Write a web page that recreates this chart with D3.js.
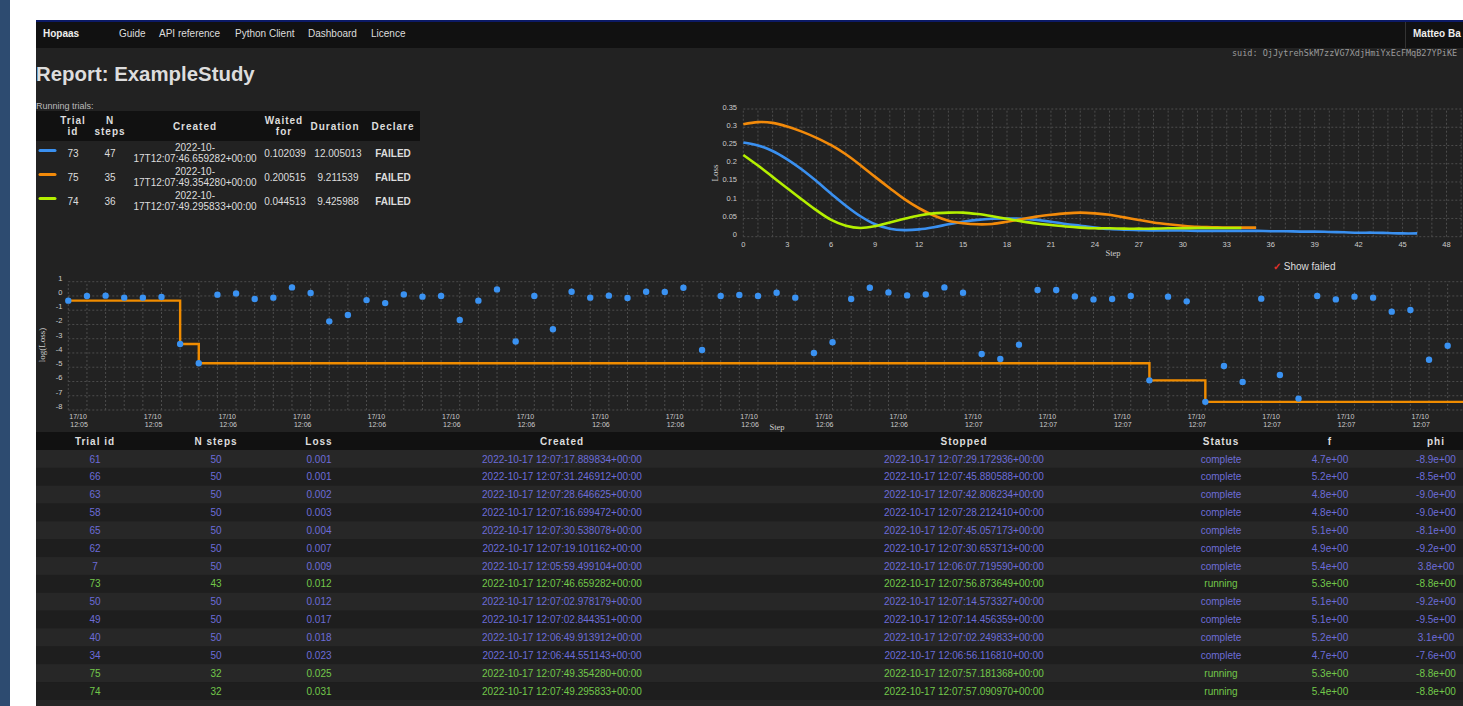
<!DOCTYPE html>
<html>
<head>
<meta charset="utf-8">
<script src="https://cdn.jsdelivr.net/npm/d3@7"></script>
<style>
  html, body { margin: 0; padding: 0; overflow: hidden; background: #fff; }
  svg { display: block; font-family: "Liberation Sans", Arial, sans-serif; }
</style>
</head>
<body>
<script>
// ---- data ----
const navLinks = ["Guide", "API reference", "Python Client", "Dashboard", "Licence"];
const navX = [119, 159, 235, 308, 371];

// running trials
const runIds = [73, 75, 74];
const runSteps = [47, 35, 36];
const runCreated = ["2022-10-17T12:07:46.659282+00:00", "2022-10-17T12:07:49.354280+00:00", "2022-10-17T12:07:49.295833+00:00"];
const runWaited = ["0.102039", "0.200515", "0.044513"];
const runDuration = ["12.005013", "9.211539", "9.425988"];
const runColors = ["#3a90f0", "#f28a0a", "#b4ef00"];

// loss vs step of the running trials (73, 75, 74)
const loss73 = [0.258, 0.250, 0.235, 0.212, 0.184, 0.152, 0.118, 0.085, 0.056, 0.034, 0.022, 0.018, 0.020, 0.026,
  0.034, 0.041, 0.046, 0.049, 0.050, 0.049, 0.046, 0.041, 0.035, 0.030, 0.025, 0.021, 0.019, 0.018, 0.017, 0.017,
  0.017, 0.016, 0.016, 0.016, 0.016, 0.016, 0.015, 0.015, 0.014, 0.014, 0.013, 0.012, 0.011, 0.011, 0.010, 0.009, 0.009];
const loss75 = [0.308, 0.314, 0.312, 0.302, 0.288, 0.271, 0.251, 0.226, 0.196, 0.164, 0.133, 0.103, 0.078, 0.058,
  0.044, 0.037, 0.034, 0.035, 0.041, 0.048, 0.055, 0.060, 0.064, 0.066, 0.064, 0.060, 0.053, 0.046, 0.039, 0.034,
  0.030, 0.027, 0.026, 0.025, 0.025, 0.025];
const loss74 = [0.224, 0.195, 0.164, 0.133, 0.102, 0.072, 0.046, 0.030, 0.024, 0.029, 0.039, 0.049, 0.058, 0.064,
  0.066, 0.066, 0.062, 0.056, 0.049, 0.042, 0.036, 0.032, 0.028, 0.025, 0.023, 0.023, 0.022, 0.022, 0.022, 0.023,
  0.023, 0.024, 0.024, 0.024, 0.024];

// log(loss) of all trials, in creation order
const logLoss = [-0.33, 0.0, 0.02, -0.12, -0.12, -0.07, -3.37, -4.72, 0.09, 0.18, -0.21, -0.12, 0.6, 0.21, -1.78,
  -1.34, -0.29, -0.5, 0.11, -0.05, 0.0, -1.69, -0.33, 0.46, -3.2, 0.0, -2.34, 0.3, -0.12, 0.02, -0.14, 0.3, 0.28,
  0.58, -3.79, 0.0, 0.07, 0.0, 0.23, -0.12, -4.0, -3.25, -0.21, 0.58, 0.25, 0.04, 0.11, 0.6, 0.23, -4.07, -4.42,
  -3.42, 0.42, 0.42, -0.03, -0.24, -0.21, 0.0, -5.92, -0.05, -0.38, -7.43, -4.91, -6.03, -0.19, -5.54, -7.2, 0.0,
  -0.24, -0.05, -0.12, -1.1, -0.99, -4.47, -3.49, -3.67];
const timeTicks = ["12:05", "12:05", "12:06", "12:06", "12:06", "12:06", "12:06", "12:06", "12:06", "12:06",
  "12:06", "12:06", "12:07", "12:07", "12:07", "12:07", "12:07", "12:07", "12:07"];

// trials table
const tblHeaders = ["Trial id", "N steps", "Loss", "Created", "Stopped", "Status", "f", "phi"];
const trialIds = [61, 66, 63, 58, 65, 62, 7, 73, 50, 49, 40, 34, 75, 74];
const nSteps = [50, 50, 50, 50, 50, 50, 50, 43, 50, 50, 50, 50, 32, 32];
const losses = ["0.001", "0.001", "0.002", "0.003", "0.004", "0.007", "0.009", "0.012", "0.012", "0.017", "0.018", "0.023", "0.025", "0.031"];
const created = ["12:07:17.889834", "12:07:31.246912", "12:07:28.646625", "12:07:16.699472", "12:07:30.538078",
  "12:07:19.101162", "12:05:59.499104", "12:07:46.659282", "12:07:02.978179", "12:07:02.844351", "12:06:49.913912",
  "12:06:44.551143", "12:07:49.354280", "12:07:49.295833"];
const stopped = ["12:07:29.172936", "12:07:45.880588", "12:07:42.808234", "12:07:28.212410", "12:07:45.057173",
  "12:07:30.653713", "12:06:07.719590", "12:07:56.873649", "12:07:14.573327", "12:07:14.456359", "12:07:02.249833",
  "12:06:56.116810", "12:07:57.181368", "12:07:57.090970"];
const status = ["complete", "complete", "complete", "complete", "complete", "complete", "complete", "running",
  "complete", "complete", "complete", "complete", "running", "running"];
const fVals = ["4.7e+00", "5.2e+00", "4.8e+00", "4.8e+00", "5.1e+00", "4.9e+00", "5.4e+00", "5.3e+00", "5.1e+00", "5.1e+00", "5.2e+00", "4.7e+00", "5.3e+00", "5.4e+00"];
const phiVals = ["-8.9e+00", "-8.5e+00", "-9.0e+00", "-9.0e+00", "-8.1e+00", "-9.2e+00", "3.8e+00", "-8.8e+00", "-9.2e+00", "-9.5e+00", "3.1e+00", "-7.6e+00", "-8.8e+00", "-8.8e+00"];

// ---- page frame ----
const W = 1463, H = 706;
const svg = d3.select("body").append("svg").attr("width", W).attr("height", H);
svg.append("rect").attr("width", W).attr("height", H).attr("fill", "#fff");
svg.append("rect").attr("width", 10).attr("height", H).attr("fill", "#2d4b70");
svg.append("rect").attr("x", 36).attr("y", 20).attr("width", W - 36).attr("height", H - 20).attr("fill", "#222");
svg.append("rect").attr("x", 36).attr("y", 20).attr("width", W - 36).attr("height", 2).attr("fill", "#0c1a66");
svg.append("rect").attr("x", 36).attr("y", 22).attr("width", W - 36).attr("height", 26).attr("fill", "#111");

// nav
svg.append("text").attr("x", 43).attr("y", 36.5).attr("fill", "#eee").attr("font-size", 10)
  .attr("font-weight", "bold").text("Hopaas");
svg.selectAll("text.nav").data(navLinks).join("text").attr("class", "nav")
  .attr("x", (d, i) => navX[i]).attr("y", 36.5).attr("fill", "#ddd").attr("font-size", 10).text(d => d);
svg.append("line").attr("x1", 1405.5).attr("x2", 1405.5).attr("y1", 22).attr("y2", 48).attr("stroke", "#333");
svg.append("text").attr("x", 1413).attr("y", 36.5).attr("fill", "#eee").attr("font-size", 10)
  .attr("font-weight", "bold").text("Matteo Ba");
svg.append("text").attr("x", 1232).attr("y", 56).attr("fill", "#9a9a9a").attr("font-size", 8.5)
  .attr("font-family", "'DejaVu Sans Mono', monospace").text("suid: OjJytrehSkM7zzVG7XdjHmiYxEcFMqB27YPiKE");

svg.append("text").attr("x", 36).attr("y", 81).attr("fill", "#ddd").attr("font-size", 20.4)
  .attr("font-weight", "bold").text("Report: ExampleStudy");

// ---- running trials table ----
svg.append("text").attr("x", 36).attr("y", 109).attr("fill", "#bbb").attr("font-size", 9).text("Running trials:");
svg.append("rect").attr("x", 36).attr("y", 111).attr("width", 384).attr("height", 30).attr("fill", "#111");
const runHead = [["Trial", "id"], ["N", "steps"], ["Created"], ["Waited", "for"], ["Duration"], ["Declare"]];
const runCols = [73, 110, 195, 284, 335, 393];
const rh = svg.append("g").attr("fill", "#ddd").attr("font-size", 10).attr("font-weight", "bold")
  .attr("letter-spacing", 1).attr("text-anchor", "middle");
runHead.forEach((lines, i) => {
  lines.forEach((t, j) => {
    const y = lines.length === 1 ? 130 : 123.5 + j * 11;
    rh.append("text").attr("x", runCols[i]).attr("y", y).text(t);
  });
});
const runRows = svg.append("g").attr("font-size", 10).attr("fill", "#ddd").attr("text-anchor", "middle")
  .selectAll("g").data(runIds).join("g").attr("transform", (d, i) => `translate(0,${156.5 + i * 24})`);
runRows.append("line").attr("x1", 40).attr("x2", 55).attr("y1", -6).attr("y2", -6)
  .attr("stroke", (d, i) => runColors[i]).attr("stroke-width", 3).attr("stroke-linecap", "round");
runRows.append("text").attr("x", runCols[0]).text(d => d);
runRows.append("text").attr("x", runCols[1]).text((d, i) => runSteps[i]);
runRows.append("text").attr("x", runCols[2]).attr("y", -6).text((d, i) => runCreated[i].slice(0, 8));
runRows.append("text").attr("x", runCols[2]).attr("y", 5).text((d, i) => runCreated[i].slice(8));
runRows.append("text").attr("x", 285).text((d, i) => runWaited[i]);
runRows.append("text").attr("x", 338).text((d, i) => runDuration[i]);
runRows.append("text").attr("x", runCols[5]).attr("font-weight", "bold").text("FAILED");

// ---- loss vs step chart ----
const lx = d3.scaleLinear().domain([0, 50]).range([743.3, 743.3 + 50 * 14.65]);
const ly = d3.scaleLinear().domain([0, 0.35]).range([236.7, 109]);
const lg = svg.append("g");
lg.append("g").selectAll("line").data(d3.range(0, 51)).join("line")
  .attr("x1", d => lx(d)).attr("x2", d => lx(d)).attr("y1", ly(0)).attr("y2", ly(0.35))
  .attr("stroke", "#4c4c4c").attr("stroke-dasharray", "2,2");
lg.append("g").selectAll("line").data(d3.range(0, 8)).join("line")
  .attr("x1", lx(0)).attr("x2", W).attr("y1", d => ly(d * 0.05)).attr("y2", d => ly(d * 0.05))
  .attr("stroke", "#4c4c4c").attr("stroke-dasharray", "2,2");
lg.append("g").attr("font-size", 7.5).attr("fill", "#ccc").attr("text-anchor", "end")
  .selectAll("text").data(d3.range(0, 8)).join("text")
  .attr("x", 737).attr("y", d => ly(d * 0.05) + 0.5).text(d => d3.format("~g")(+(d * 0.05).toFixed(2)));
lg.append("g").attr("font-size", 7.5).attr("fill", "#ccc").attr("text-anchor", "middle")
  .selectAll("text").data(d3.range(0, 49, 3)).join("text")
  .attr("x", d => lx(d)).attr("y", 246.5).text(d => d);
lg.append("text").attr("transform", "translate(718,173) rotate(-90)").attr("text-anchor", "middle")
  .attr("font-size", 9).attr("font-family", "'Liberation Serif', serif").attr("fill", "#ccc").text("Loss");
lg.append("text").attr("x", 1113).attr("y", 256).attr("text-anchor", "middle")
  .attr("font-size", 8.5).attr("font-family", "'Liberation Serif', serif").attr("fill", "#ccc").text("Step");
const lineGen = d3.line().x((d, i) => lx(i)).y(d => ly(d)).curve(d3.curveCatmullRom.alpha(0.5));
[loss73, loss75, loss74].forEach((s, k) => {
  lg.append("path").attr("d", lineGen(s)).attr("fill", "none")
    .attr("stroke", runColors[k]).attr("stroke-width", 2.6);
});
svg.append("text").attr("x", 1273).attr("y", 270).attr("font-size", 10).attr("fill", "#ddd")
  .call(t => t.append("tspan").attr("fill", "#e0302a").attr("font-weight", "bold").text("\u2713 "))
  .call(t => t.append("tspan").text("Show failed"));

// ---- log(loss) scatter ----
const sx = d3.scaleLinear().domain([0, 75]).range([68.3, 68.3 + 75 * 18.64]);
const sy = d3.scaleLinear().domain([-8, 1]).range([410, 281.7]);
const sg = svg.append("g");
sg.append("g").selectAll("line").data(d3.range(0, 76)).join("line")
  .attr("x1", d => sx(d)).attr("x2", d => sx(d)).attr("y1", sy(-8)).attr("y2", sy(1))
  .attr("stroke", "#4c4c4c").attr("stroke-dasharray", "2,2");
sg.append("g").selectAll("line").data(d3.range(-8, 2)).join("line")
  .attr("x1", sx(0)).attr("x2", W).attr("y1", d => sy(d)).attr("y2", d => sy(d))
  .attr("stroke", "#4c4c4c").attr("stroke-dasharray", "2,2");
sg.append("g").attr("font-size", 7.5).attr("fill", "#ccc").attr("text-anchor", "end")
  .selectAll("text").data(d3.range(-8, 2)).join("text")
  .attr("x", 62.5).attr("y", d => sy(d) - 1).text(d => d);
const tk = sg.append("g").attr("font-size", 7).attr("fill", "#ccc")
  .selectAll("g").data(timeTicks).join("g").attr("transform", (d, i) => `translate(${sx(i * 4) + 1},0)`);
tk.append("text").attr("y", 419).text("17/10");
tk.append("text").attr("x", 1).attr("y", 427).text(d => d);
sg.append("text").attr("transform", "translate(45,345) rotate(-90)").attr("text-anchor", "middle")
  .attr("font-size", 9).attr("font-family", "'Liberation Serif', serif").attr("fill", "#ccc").text("log(Loss)");
sg.append("text").attr("x", 777).attr("y", 430).attr("text-anchor", "middle")
  .attr("font-size", 8.5).attr("font-family", "'Liberation Serif', serif").attr("fill", "#ccc").text("Step");
const best = [];
logLoss.forEach((v, i) => best.push(i ? Math.min(best[i - 1], v) : v));
sg.append("path").attr("d", d3.line().x((d, i) => sx(i)).y(d => sy(d)).curve(d3.curveStepAfter)(best.concat([best[best.length - 1]])))
  .attr("fill", "none").attr("stroke", "#f08c00").attr("stroke-width", 2.4);
sg.append("g").selectAll("circle").data(logLoss).join("circle")
  .attr("cx", (d, i) => sx(i)).attr("cy", d => sy(d)).attr("r", 3.2).attr("fill", "#3a92f2");

// ---- trials table ----
const tCols = [95, 216, 319, 562, 964, 1221, 1330, 1436];
const rowH = 17.85, tblTop = 450;
svg.append("rect").attr("x", 36).attr("y", 432).attr("width", W - 36).attr("height", 18).attr("fill", "#111");
svg.append("g").attr("font-size", 10).attr("font-weight", "bold").attr("letter-spacing", 1)
  .attr("fill", "#ddd").attr("text-anchor", "middle")
  .selectAll("text").data(tblHeaders).join("text")
  .attr("x", (d, i) => tCols[i]).attr("y", 444.5).text(d => d);
const rows = svg.append("g").attr("font-size", 10).attr("text-anchor", "middle")
  .selectAll("g").data(trialIds).join("g").attr("transform", (d, i) => `translate(0,${tblTop + i * rowH})`);
rows.append("rect").attr("x", 36).attr("width", W - 36).attr("height", rowH)
  .attr("fill", (d, i) => i % 2 ? "#1e1e1e" : "#272727");
rows.append("g").attr("fill", (d, i) => status[i] === "running" ? "#72c84a" : "#6c6cd8")
  .each(function (d, i) {
    const vals = [d, nSteps[i], losses[i], "2022-10-17 " + created[i] + "+00:00",
      "2022-10-17 " + stopped[i] + "+00:00", status[i], fVals[i], phiVals[i]];
    d3.select(this).selectAll("text").data(vals).join("text")
      .attr("x", (v, j) => tCols[j]).attr("y", 12.5).text(v => v);
  });
svg.append("rect").attr("x", 36).attr("y", tblTop + trialIds.length * rowH).attr("width", W - 36)
  .attr("height", rowH).attr("fill", "#272727");
</script>
</body>
</html>
